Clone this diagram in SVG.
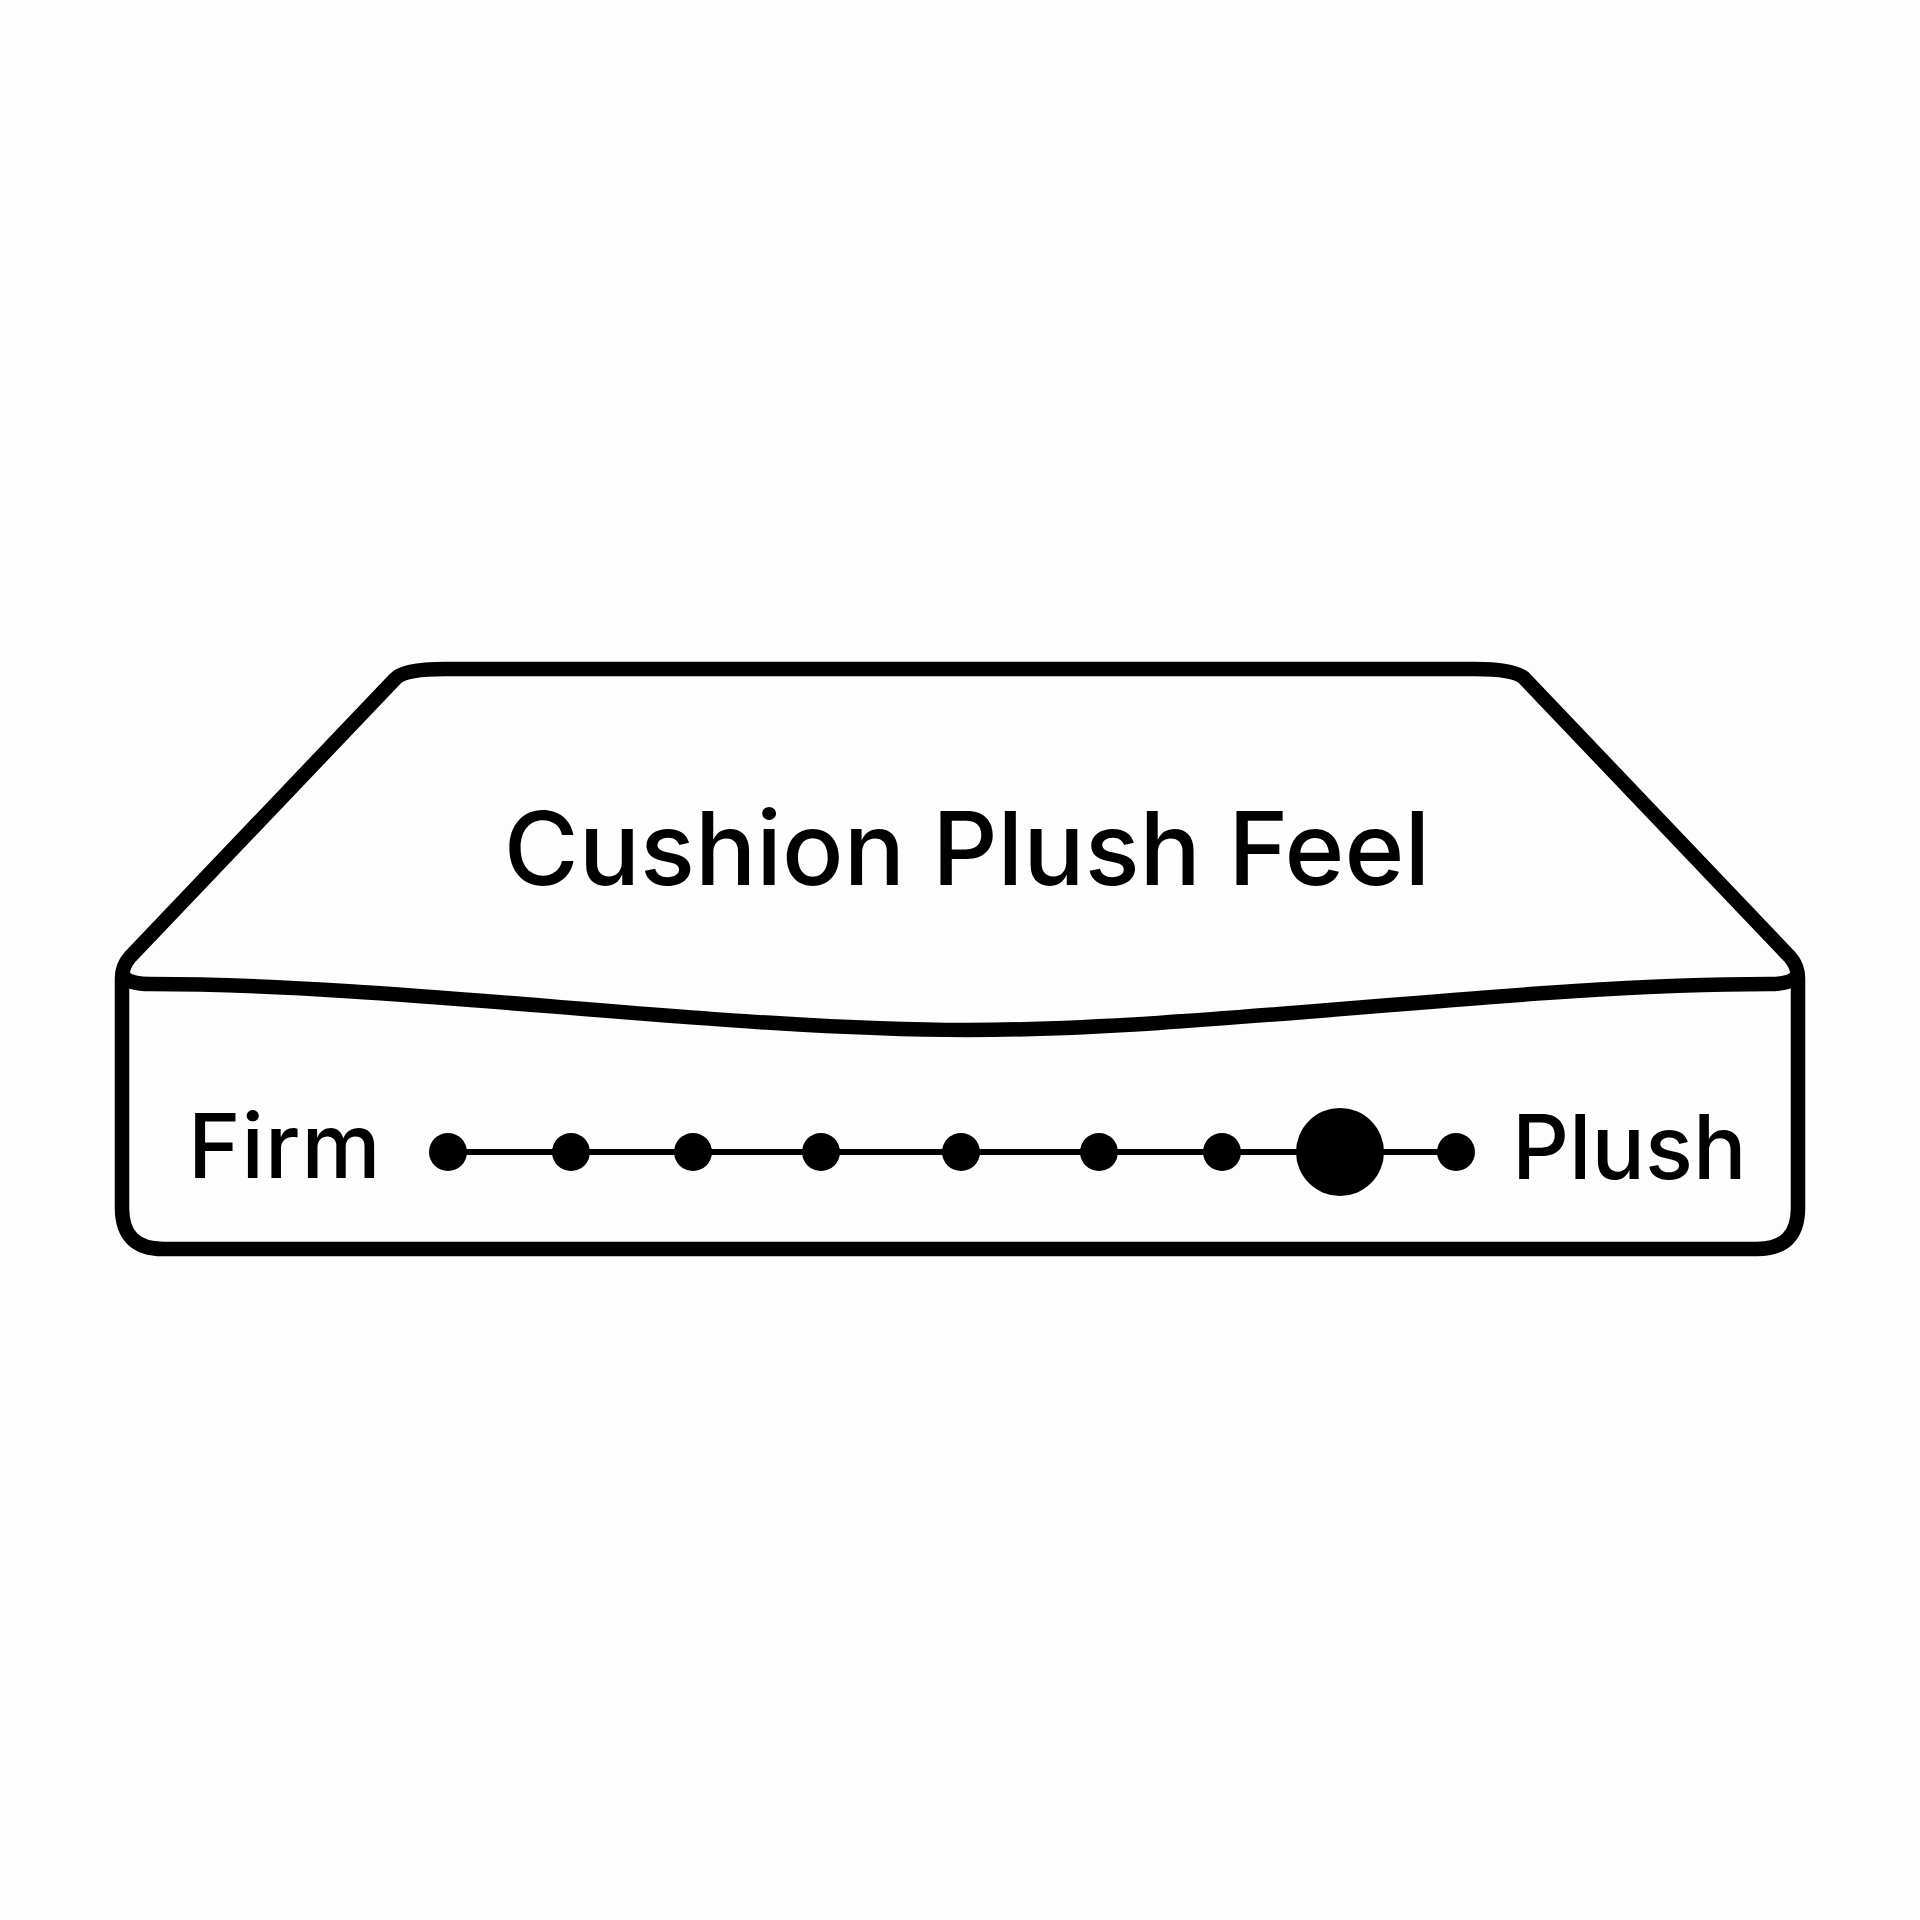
<svg xmlns="http://www.w3.org/2000/svg" width="1920" height="1920" viewBox="0 0 1920 1920">
<style>
.o{fill:none;stroke:#000;stroke-width:14.5;stroke-linejoin:round;stroke-linecap:round}
.t{font-family:"Inter","Noto Sans",sans-serif;fill:#000;font-weight:500}
.d{fill:#000}
</style>
<rect width="1920" height="1920" fill="#fdfdfd"/>
<g id="mattress">
<path class="o" d="M122 978V1208Q122 1249 163 1249H1757Q1798 1249 1798 1208V978Q1798 966 1790 957L1525 679Q1516 669 1475 669H445Q404 669 395 679L130 957Q122 966 122 978Z"/>
<path class="o" d="M124 977Q130 984 150 984C400 984 720 1030 967 1030C1210 1030 1520 984 1770 984Q1790 984 1796 977"/>
<text class="t" x="967" y="885" font-size="102" text-anchor="middle">Cushion Plush Feel</text>
</g>
<g id="label-firm"><text class="t" x="188" y="1178" font-size="89" letter-spacing="1">Firm</text></g>
<g id="label-plush"><text class="t" x="1512" y="1179" font-size="89">Plush</text></g>
<g id="connectors"><line x1="448" y1="1152" x2="1456" y2="1152" stroke="#000" stroke-width="6"/></g>
<g id="scale">
<circle class="d" cx="448" cy="1152" r="19"/>
<circle class="d" cx="571" cy="1152" r="19"/>
<circle class="d" cx="693" cy="1152" r="19"/>
<circle class="d" cx="821" cy="1152" r="19"/>
<circle class="d" cx="961" cy="1152" r="19"/>
<circle class="d" cx="1099" cy="1152" r="19"/>
<circle class="d" cx="1222" cy="1152" r="19"/>
<circle class="d" cx="1340" cy="1152" r="44"/>
<circle class="d" cx="1456" cy="1152" r="19"/>
</g>
</svg>
